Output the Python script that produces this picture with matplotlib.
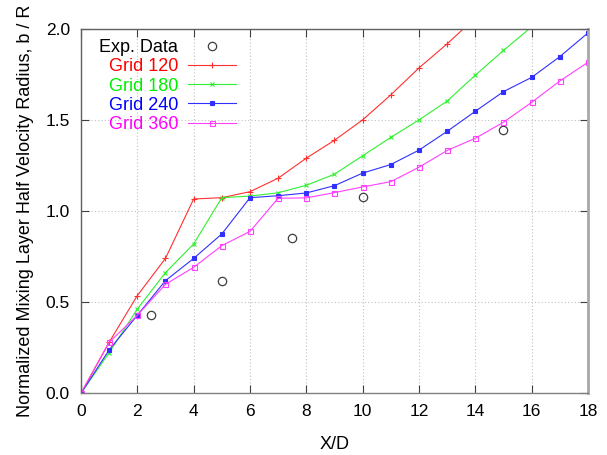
import matplotlib.pyplot as plt
import numpy as np

plt.rcParams['font.family'] = ['Liberation Sans', 'DejaVu Sans']

# data ------------------------------------------------------------
exp_x = [2.5, 5, 7.5, 10, 15]
exp_y = [0.431, 0.618, 0.854, 1.078, 1.444]

x120 = [0, 1, 2, 3, 4, 5, 6, 7, 8, 9, 10, 11, 12, 13, 14]
y120 = [0.0, 0.28, 0.536, 0.74, 1.066, 1.073, 1.106, 1.18, 1.29, 1.388,
        1.50, 1.637, 1.785, 1.917, 2.06]

x180 = [0, 1, 2, 3, 4, 5, 6, 7, 8, 9, 10, 11, 12, 13, 14, 15, 16, 17]
y180 = [0.0, 0.223, 0.462, 0.662, 0.819, 1.073, 1.082, 1.10, 1.141, 1.202,
        1.303, 1.404, 1.50, 1.603, 1.745, 1.881, 2.01, 2.15]

x240 = list(range(19))
y240 = [0.0, 0.238, 0.428, 0.618, 0.740, 0.874, 1.073, 1.084, 1.099, 1.139,
        1.208, 1.255, 1.334, 1.437, 1.547, 1.655, 1.733, 1.847, 1.977]

x360 = list(range(19))
y360 = [0.0, 0.28, 0.428, 0.598, 0.691, 0.81, 0.888, 1.07, 1.072, 1.101,
        1.132, 1.161, 1.24, 1.332, 1.399, 1.487, 1.596, 1.713, 1.816]

xticks = np.arange(0, 19, 2)
yticks = [0.0, 0.5, 1.0, 1.5, 2.0]

# figure -----------------------------------------------------------
fig = plt.figure(figsize=(6.07, 4.55), dpi=100)
ax = fig.add_axes([0.1334, 0.1356, 0.9687 - 0.1334, 0.9369 - 0.1356])

ax.plot(exp_x, exp_y, 'o', mfc='none', mec='#404040', ms=6, mew=0.9,
        ls='none', label='Exp. Data')
ax.plot(x120, y120, color='#ff3030', lw=0.8, marker='+', ms=4, mew=0.8,
        label='Grid 120')
ax.plot(x180, y180, color='#30f030', lw=0.8, marker='x', ms=3.5, mew=0.8,
        label='Grid 180')
ax.plot(x240, y240, color='#3030ff', lw=0.8, marker='s', ms=2.6, mew=0.8,
        label='Grid 240')
ax.plot(x360, y360, color='#ff40ff', lw=0.8, marker='s', ms=3.6, mew=0.8,
        mfc='none', label='Grid 360')

ax.set_xlim(0, 18)
ax.set_ylim(0, 2.0)
ax.set_xticks(xticks)
ax.set_yticks(yticks)
ax.set_yticklabels(['%.1f' % v for v in yticks])
ax.tick_params(direction='in', length=6, width=0.8, colors='#404040',
               labelcolor='black', labelsize=12.5, top=True, right=True, pad=8)
ax.grid(True, color='#c0c0c0', ls=(0, (1, 2)), lw=0.8)

for s in ['left', 'top']:
    ax.spines[s].set_color('#606060')
    ax.spines[s].set_linewidth(1)
ax.spines['bottom'].set_color('#808080')
ax.spines['bottom'].set_linewidth(1)
ax.spines['right'].set_color('#a8a8a8')
ax.spines['right'].set_linewidth(2)

ax.set_xlabel('X/D', fontsize=13, labelpad=12)
ax.set_ylabel('Normalized Mixing Layer Half Velocity Radius, b / R',
              fontsize=13, labelpad=8)

# gnuplot-like key: right-aligned coloured text, sample on the right
leg = ax.legend(loc='upper right', markerfirst=False, frameon=False,
                fontsize=13, handlelength=2.65, labelspacing=0.12,
                borderaxespad=0.0, borderpad=0.0, handletextpad=0.55,
                bbox_to_anchor=(0.306, 0.971))
text_colors = ['black', 'red', '#00ee00', 'blue', 'magenta']
for t, c in zip(leg.get_texts(), text_colors):
    t.set_color(c)

fig.savefig('out.png', dpi=100)
